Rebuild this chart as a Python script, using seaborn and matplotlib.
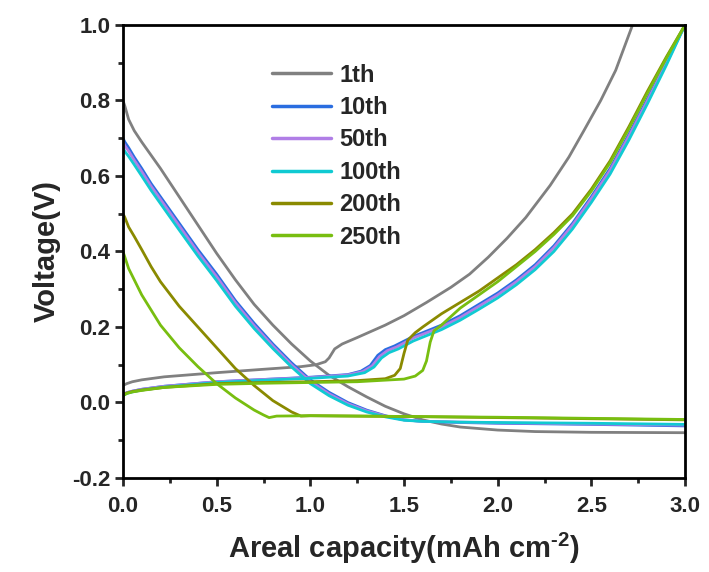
import numpy as np
import pandas as pd
import matplotlib
matplotlib.use("Agg")
import matplotlib.pyplot as plt
import seaborn as sns

# ---------------- data ----------------
cycles = ["1th", "10th", "50th", "100th", "200th", "250th"]
colors = ["#808080", "#2a6de0", "#b07ee6", "#10cad2", "#8a8a00", "#78be10"]

# 1th
c1_dis_x = [0, 0.01, 0.03, 0.06, 0.1, 0.15, 0.2, 0.3, 0.4, 0.5, 0.6, 0.7, 0.8, 0.9, 1.0, 1.1, 1.2, 1.3, 1.4, 1.5, 1.6, 1.7, 1.8, 2.0, 2.2, 2.5, 3.0]
c1_dis_y = [0.80, 0.785, 0.75, 0.72, 0.69, 0.655, 0.62, 0.545, 0.47, 0.395, 0.325, 0.26, 0.205, 0.155, 0.11, 0.072, 0.042, 0.015, -0.01, -0.03, -0.046, -0.057, -0.065, -0.073, -0.077, -0.079, -0.08]
c1_chg_x = [0, 0.02, 0.05, 0.1, 0.22, 0.5, 0.75, 0.95, 1.03, 1.08, 1.1, 1.13, 1.17, 1.25, 1.4, 1.5, 1.62, 1.75, 1.85, 1.95, 2.05, 2.15, 2.28, 2.38, 2.46, 2.55, 2.63, 2.72]
c1_chg_y = [0.045, 0.05, 0.055, 0.06, 0.068, 0.079, 0.088, 0.095, 0.10, 0.108, 0.118, 0.142, 0.155, 0.172, 0.205, 0.23, 0.265, 0.305, 0.34, 0.385, 0.435, 0.49, 0.575, 0.65, 0.72, 0.8, 0.88, 1.0]

# 10th
c10_dis_x = [0, 0.01, 0.03, 0.06, 0.1, 0.15, 0.2, 0.3, 0.4, 0.5, 0.6, 0.7, 0.8, 0.9, 1.0, 1.1, 1.2, 1.3, 1.4, 1.5, 1.6, 1.8, 2.0, 2.5, 3.0]
c10_dis_y = [0.70, 0.69, 0.675, 0.65, 0.62, 0.58, 0.545, 0.475, 0.405, 0.34, 0.27, 0.21, 0.155, 0.105, 0.06, 0.027, 0.0, -0.02, -0.035, -0.046, -0.05, -0.053, -0.055, -0.058, -0.062]
c10_chg_x = [0, 0.02, 0.05, 0.1, 0.22, 0.5, 0.75, 1.0, 1.2, 1.27, 1.32, 1.36, 1.4, 1.45, 1.55, 1.7, 1.8, 1.9, 2.0, 2.1, 2.2, 2.3, 2.4, 2.5, 2.6, 2.7, 2.8, 2.9, 3.0]
c10_chg_y = [0.02, 0.026, 0.03, 0.035, 0.043, 0.055, 0.061, 0.067, 0.074, 0.083, 0.098, 0.125, 0.14, 0.15, 0.175, 0.205, 0.23, 0.26, 0.29, 0.325, 0.365, 0.415, 0.475, 0.545, 0.62, 0.71, 0.805, 0.9, 1.0]

# 50th
c50_dis_x = [0, 0.01, 0.03, 0.06, 0.1, 0.15, 0.2, 0.3, 0.4, 0.5, 0.6, 0.7, 0.8, 0.9, 1.0, 1.1, 1.2, 1.3, 1.4, 1.5, 1.6, 1.8, 2.0, 2.5, 3.0]
c50_dis_y = [0.69, 0.68, 0.666, 0.642, 0.612, 0.573, 0.538, 0.468, 0.398, 0.333, 0.264, 0.204, 0.15, 0.1, 0.056, 0.023, -0.003, -0.022, -0.036, -0.046, -0.05, -0.052, -0.054, -0.057, -0.06]
c50_chg_x = [0, 0.02, 0.05, 0.1, 0.22, 0.5, 0.75, 1.0, 1.2, 1.28, 1.33, 1.37, 1.41, 1.46, 1.55, 1.7, 1.8, 1.9, 2.0, 2.1, 2.2, 2.3, 2.4, 2.5, 2.6, 2.7, 2.8, 2.9, 3.0]
c50_chg_y = [0.02, 0.026, 0.03, 0.035, 0.043, 0.055, 0.061, 0.066, 0.073, 0.082, 0.097, 0.122, 0.137, 0.147, 0.171, 0.2, 0.225, 0.255, 0.285, 0.32, 0.36, 0.41, 0.47, 0.54, 0.615, 0.705, 0.8, 0.898, 1.0]

# 100th
c100_dis_x = [0, 0.01, 0.03, 0.06, 0.1, 0.15, 0.2, 0.3, 0.4, 0.5, 0.6, 0.7, 0.8, 0.9, 1.0, 1.1, 1.2, 1.3, 1.4, 1.5, 1.6, 1.8, 2.0, 2.5, 3.0]
c100_dis_y = [0.675, 0.665, 0.652, 0.63, 0.6, 0.562, 0.527, 0.457, 0.388, 0.323, 0.255, 0.196, 0.143, 0.094, 0.05, 0.018, -0.007, -0.025, -0.038, -0.047, -0.05, -0.052, -0.053, -0.055, -0.058]
c100_chg_x = [0, 0.02, 0.05, 0.1, 0.22, 0.5, 0.75, 1.0, 1.2, 1.29, 1.34, 1.38, 1.42, 1.47, 1.55, 1.7, 1.8, 1.9, 2.0, 2.1, 2.2, 2.3, 2.4, 2.5, 2.6, 2.7, 2.8, 2.9, 3.0]
c100_chg_y = [0.018, 0.024, 0.028, 0.033, 0.041, 0.053, 0.059, 0.064, 0.07, 0.079, 0.094, 0.118, 0.132, 0.142, 0.163, 0.193, 0.218, 0.247, 0.277, 0.312, 0.352, 0.4, 0.46, 0.53, 0.605, 0.695, 0.792, 0.893, 1.0]

# 200th
c200_dis_x = [0, 0.01, 0.03, 0.06, 0.1, 0.15, 0.2, 0.3, 0.4, 0.5, 0.6, 0.7, 0.8, 0.9, 0.95, 1.0, 1.5, 2.0, 2.5, 3.0]
c200_dis_y = [0.50, 0.49, 0.465, 0.44, 0.405, 0.36, 0.32, 0.255, 0.2, 0.145, 0.09, 0.045, 0.005, -0.025, -0.036, -0.035, -0.037, -0.04, -0.043, -0.046]
c200_chg_x = [0, 0.02, 0.05, 0.1, 0.22, 0.5, 0.75, 1.0, 1.25, 1.4, 1.45, 1.48, 1.5, 1.52, 1.56, 1.6, 1.7, 1.8, 1.9, 2.0, 2.1, 2.2, 2.3, 2.4, 2.5, 2.6, 2.7, 2.8, 2.9, 3.0]
c200_chg_y = [0.02, 0.025, 0.029, 0.033, 0.04, 0.05, 0.053, 0.055, 0.058, 0.063, 0.072, 0.09, 0.13, 0.165, 0.185, 0.2, 0.235, 0.265, 0.295, 0.33, 0.365, 0.405, 0.45, 0.5, 0.565, 0.64, 0.73, 0.825, 0.915, 1.0]

# 250th
c250_dis_x = [0, 0.01, 0.03, 0.06, 0.1, 0.15, 0.2, 0.3, 0.4, 0.5, 0.6, 0.7, 0.75, 0.78, 0.82, 1.0, 1.5, 2.0, 2.5, 3.0]
c250_dis_y = [0.40, 0.385, 0.355, 0.325, 0.285, 0.245, 0.205, 0.145, 0.095, 0.05, 0.012, -0.02, -0.033, -0.04, -0.036, -0.035, -0.037, -0.039, -0.042, -0.045]
c250_chg_x = [0, 0.02, 0.05, 0.1, 0.22, 0.5, 0.75, 1.0, 1.25, 1.5, 1.56, 1.6, 1.62, 1.64, 1.66, 1.7, 1.8, 1.9, 2.0, 2.1, 2.2, 2.3, 2.4, 2.5, 2.6, 2.7, 2.8, 2.9, 3.0]
c250_chg_y = [0.018, 0.024, 0.028, 0.032, 0.04, 0.048, 0.051, 0.053, 0.055, 0.062, 0.07, 0.085, 0.11, 0.16, 0.19, 0.205, 0.25, 0.285, 0.32, 0.36, 0.4, 0.445, 0.495, 0.56, 0.635, 0.725, 0.82, 0.912, 1.0]

x_ticks = [0.0, 0.5, 1.0, 1.5, 2.0, 2.5, 3.0]
y_ticks = [-0.2, 0.0, 0.2, 0.4, 0.6, 0.8, 1.0]

# ---------------- build long table ----------------
segments = [
    ("1th", c1_dis_x, c1_dis_y, c1_chg_x, c1_chg_y),
    ("10th", c10_dis_x, c10_dis_y, c10_chg_x, c10_chg_y),
    ("50th", c50_dis_x, c50_dis_y, c50_chg_x, c50_chg_y),
    ("100th", c100_dis_x, c100_dis_y, c100_chg_x, c100_chg_y),
    ("200th", c200_dis_x, c200_dis_y, c200_chg_x, c200_chg_y),
    ("250th", c250_dis_x, c250_dis_y, c250_chg_x, c250_chg_y),
]
rows = []
for name, dx, dy, cx, cy in segments:
    for xv, yv in zip(dx, dy):
        rows.append((name, "discharge", xv, yv))
    for xv, yv in zip(cx, cy):
        rows.append((name, "charge", xv, yv))
df = pd.DataFrame(rows, columns=["cycle", "branch", "cap", "volt"])

# ---------------- style ----------------
sns.set_style("ticks")
plt.rcParams["font.family"] = ["Liberation Sans", "DejaVu Sans"]
plt.rcParams["font.weight"] = "bold"
plt.rcParams["axes.labelweight"] = "bold"
plt.rcParams["mathtext.fontset"] = "custom"
plt.rcParams["mathtext.rm"] = "Liberation Sans:bold"
plt.rcParams["mathtext.bf"] = "Liberation Sans:bold"

fig = plt.figure(figsize=(7.09, 5.72), dpi=100)
ax = fig.add_axes([123 / 709, 1 - 478 / 572, (685 - 123) / 709, (478 - 25) / 572])

sns.lineplot(data=df, x="cap", y="volt", hue="cycle", units="branch",
             estimator=None, sort=False, hue_order=cycles,
             palette=dict(zip(cycles, colors)), linewidth=2.0, ax=ax)

ax.set_xlim(0, 3.0)
ax.set_ylim(-0.2, 1.0)
ax.set_xticks(x_ticks)
ax.set_yticks(y_ticks)
ax.set_xticklabels([f"{v:.1f}" for v in x_ticks])
ax.set_yticklabels([f"{v:.1f}" for v in y_ticks])
ax.xaxis.set_minor_locator(matplotlib.ticker.MultipleLocator(0.25))
ax.yaxis.set_minor_locator(matplotlib.ticker.MultipleLocator(0.1))
ax.tick_params(which="major", direction="out", length=6, width=2, labelsize=16, pad=7)
ax.tick_params(which="minor", direction="out", length=3.5, width=2)
ax.tick_params(axis="y", which="major", pad=3)
for lab in ax.get_xticklabels() + ax.get_yticklabels():
    lab.set_fontweight("bold")
for sp in ax.spines.values():
    sp.set_linewidth(2)
    sp.set_color("black")
    sp.set_visible(True)

ax.set_xlabel("Areal capacity(mAh cm$^{\u2010\\mathbf{2}}$)", fontsize=21, fontweight="bold", labelpad=10)
ax.set_ylabel("Voltage(V)", fontsize=21, fontweight="bold", labelpad=8)

handles, labels = ax.get_legend_handles_labels()
for h in handles:
    h.set_linewidth(2.5)
leg = ax.legend(handles, labels, loc="upper left", bbox_to_anchor=(0.265, 0.915),
                frameon=False, fontsize=17, handlelength=2.5, handletextpad=0.35,
                labelspacing=0.4, borderpad=0, borderaxespad=0)
for t in leg.get_texts():
    t.set_fontweight("bold")

fig.savefig("out.png", dpi=100)
